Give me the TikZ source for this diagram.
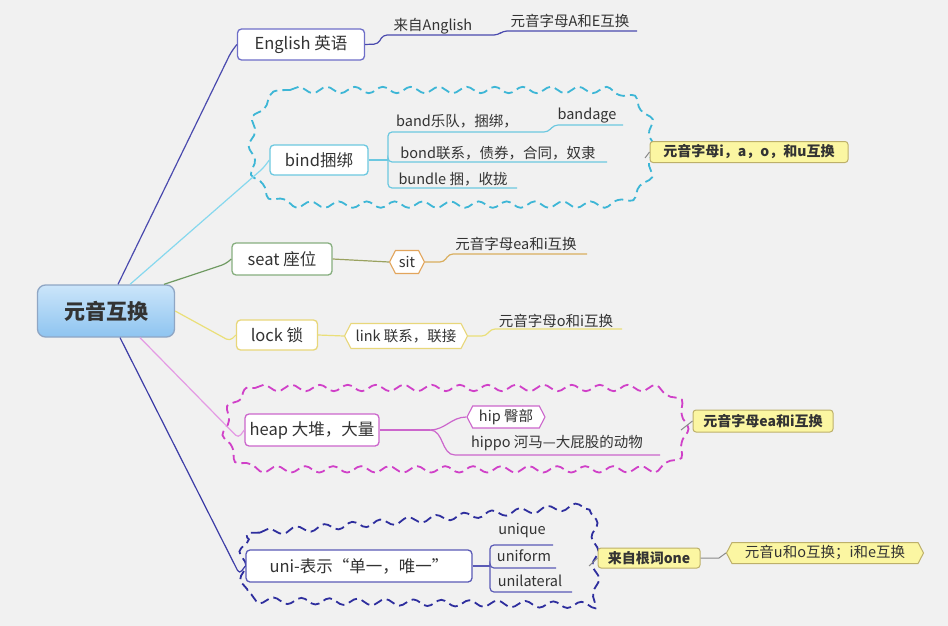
\documentclass[tikz,border=0pt]{standalone}
\usepackage{fontspec}
\setmainfont{Noto Sans CJK SC}
\usetikzlibrary{shapes.symbols,decorations.pathmorphing}
\definecolor{bg}{HTML}{F1F1F1}
\definecolor{txt}{HTML}{333333}
\definecolor{cTop}{HTML}{CBE5FA}
\definecolor{cBot}{HTML}{8EC4F0}
\definecolor{cBrd}{HTML}{8FA6C4}
\definecolor{engC}{HTML}{4A4AAE}
\definecolor{engB}{HTML}{6E6EC8}
\definecolor{bindC}{HTML}{86D8EE}
\definecolor{bindB}{HTML}{6CC8E0}
\definecolor{bindD}{HTML}{3DB6D6}
\definecolor{seatC}{HTML}{6F9A62}
\definecolor{seatB}{HTML}{86AE7E}
\definecolor{sitC}{HTML}{D9AE5E}
\definecolor{sitB}{HTML}{E2A55C}
\definecolor{lockC}{HTML}{EADF78}
\definecolor{lockB}{HTML}{E8D77A}
\definecolor{heapC}{HTML}{E49AE4}
\definecolor{heapB}{HTML}{CC66CC}
\definecolor{heapD}{HTML}{D040C8}
\definecolor{uniC}{HTML}{3C3CA6}
\definecolor{uniB}{HTML}{5A5AB6}
\definecolor{uniD}{HTML}{2E2E9E}
\definecolor{yelF}{HTML}{FBF6A2}
\definecolor{yelB}{HTML}{BDB06A}
\definecolor{grayL}{HTML}{8A8A8A}
\begin{document}
\begin{tikzpicture}[x=1pt,y=-1pt,
  every node/.style={text=txt},
  big/.style={font=\fontsize{16.5}{19}\selectfont},
  small/.style={font=\fontsize{14.5}{16}\selectfont, inner sep=0pt},
  mbox/.style={draw, rounded corners=4pt, fill=white, line width=1.3pt, inner sep=0pt, big},
  hexa/.style={signal, signal to=east and west, signal pointer angle=125, draw, fill=white, line width=1.1pt, inner sep=0pt, small},
  ybox/.style={draw=yelB, fill=yelF, rounded corners=3pt, line width=1pt, inner sep=0pt, font=\fontsize{14}{16}\selectfont\bfseries},
  yhex/.style={signal, signal to=east and west, signal pointer angle=125, draw=yelB, fill=yelF, line width=1pt, inner sep=0pt, font=\fontsize{14.5}{16}\selectfont},
  conn/.style={line width=1.2pt, rounded corners=4pt},
  sub/.style={line width=1.2pt, rounded corners=4pt},
  cloudline/.style={line width=1.8pt, dash pattern=on 9pt off 5pt, decorate,
    decoration={snake, amplitude=3.2pt, segment length=28pt}}
]
\useasboundingbox (0,0) rectangle (948,626);
\fill[bg] (0,0) rectangle (948,626);

% clouds
\draw[bindD, cloudline] (290,90) -- (600,90) .. controls (625,90) and (645,110) .. (645,135)
  -- (645,159) .. controls (645,184) and (625,204) .. (600,204) -- (290,204)
  .. controls (265,204) and (245,184) .. (245,159) -- (245,135)
  .. controls (245,110) and (265,90) .. (290,90) -- cycle;
\draw[heapD, cloudline] (255,388) -- (645,388) .. controls (664,388) and (679,403) .. (679,422)
  -- (679,434) .. controls (679,453) and (664,468) .. (645,468) -- (255,468)
  .. controls (234,468) and (219,451) .. (219,430) -- (219,426)
  .. controls (219,405) and (234,388) .. (255,388) -- cycle;
\draw[uniD, cloudline] (260,532.6) -- (567,507.5) .. controls (585,506) .. (585.6,524)
  -- (587.4,585) .. controls (588,603) .. (570,602.7) -- (262,598.4)
  .. controls (232,598) .. (231,568) -- (231,565) .. controls (230,535) .. (260,532.6) -- cycle;

% center
\node[draw=cBrd, line width=1.3pt, rounded corners=8pt, top color=cTop, bottom color=cBot,
  minimum width=137pt, minimum height=52pt, inner sep=0pt,
  font=\fontsize{21}{24}\selectfont\bfseries, text=black!80] (c) at (106,311) {元音互换};

% main boxes
\node[mbox, draw=engB, minimum width=127pt, minimum height=31pt] (eng) at (301,44.5) {English 英语};
\node[mbox, draw=bindB, minimum width=98pt, minimum height=30pt] (bind) at (319,160) {bind捆绑};
\node[mbox, draw=seatB, minimum width=100pt, minimum height=32pt] (seat) at (282,259) {seat 座位};
\node[mbox, draw=lockB, minimum width=81pt, minimum height=30pt] (lock) at (277,335) {lock 锁};
\node[mbox, draw=heapB, minimum width=134pt, minimum height=32pt] (heap) at (312,430) {heap 大堆，大量};
\node[mbox, draw=uniB, minimum width=226pt, minimum height=32pt] (uni) at (359,566) {uni-表示“单一，唯一”};

% center connectors
\draw[conn, engC] ([xshift=12pt]c.north) -- ([xshift=-6pt,yshift=-8pt]eng.west) -- (eng.west);
\draw[conn, bindC] ([xshift=24pt]c.north) -- ([xshift=-6pt,yshift=-8pt]bind.west) -- (bind.west);
\draw[conn, seatC] ([xshift=58pt]c.north) -- ([xshift=-6pt,yshift=-5pt]seat.west) -- (seat.west);
\draw[conn, lockC] ([yshift=0pt]c.east) -- ([xshift=-6pt,yshift=-6pt]lock.west) -- (lock.west);
\draw[conn, heapC] ([xshift=34pt]c.south) -- ([xshift=-6pt,yshift=-8pt]heap.west) -- (heap.west);
\draw[conn, uniC] ([xshift=14pt]c.south) -- ([xshift=-6pt,yshift=-8pt]uni.west) -- (uni.west);

% English branch
\node[small] (ang) at (433,26) {来自Anglish};
\node[small] (ae) at (570,21) {元音字母A和E互换};
\coordinate (e1) at (383,35);
\coordinate (e2) at (498,35);
\coordinate (e3) at (503,31);
\coordinate (e4) at (637,31);
\draw[sub, engC] (eng.east) -- (378,44) -- (e1) -- (e2) -- (e3) -- (e4);

% bind branch
\node[small] (band) at (457,121) {band乐队，捆绑，};
\node[small] (bandage) at (587,116) {bandage};
\node[small] (bond) at (498,153) {bond联系，债券，合同，奴隶};
\node[small] (bundle) at (453,179) {bundle 捆，收拢};
\coordinate (bk) at (388,160);
\draw[sub, bindB] (bind.east) -- (bk);
\draw[sub, bindB] (bk) -- (388,132) -- (548,132) -- (554,125) -- (623,125);
\draw[sub, bindB] (bk) -- (388,162) -- (607,162);
\draw[sub, bindB] (bk) -- (388,188) -- (517,188);
\node[ybox, minimum width=198pt, minimum height=21pt] (y1) at (749,152) {元音字母i，a，o，和u互换};
\draw[line width=1pt, grayL] (645,158) -- (y1.west);

% seat branch
\node[hexa, draw=sitB, minimum width=35pt, minimum height=23pt] (sit) at (407,262) {sit};
\node[small] (seaT) at (516,244) {元音字母ea和i互换};
\draw[conn, seatC!60!sitC] (seat.east) -- (sit.west);
\draw[sub, sitC] (sit.east) -- (444,262) -- (449,254) -- (587,254);

% lock branch
\node[hexa, draw=lockB, minimum width=123pt, minimum height=25pt] (link) at (406,336) {link 联系，联接};
\node[small] (lockT) at (556,321) {元音字母o和i互换};
\draw[conn, lockC] (lock.east) -- (link.west);
\draw[sub, lockC] (link.east) -- (486,336) -- (491,329) -- (622,329);

% heap branch
\node[hexa, draw=heapB, minimum width=78pt, minimum height=22pt] (hip) at (506,417) {hip 臀部};
\node[small] (hippo) at (557,443) {hippo 河马—大屁股的动物};
\coordinate (hk) at (430,430);
\draw[sub, heapB] (heap.east) -- (hk);
\draw[heapB, line width=1.2pt] (hk) to[out=0, in=180] (hip.west);
\draw[heapB, line width=1.2pt] (hk) to[out=0, in=180] (455,455) -- (660,455);
\node[ybox, minimum width=140pt, minimum height=22pt] (y2) at (763,421) {元音字母ea和i互换};
\draw[line width=1pt, grayL] (681,430) -- (y2.west);

% uni branch
\node[small] (unique) at (522,531) {unique};
\node[small] (uniform) at (524,556) {uniform};
\node[small] (unilat) at (530,581) {unilateral};
\coordinate (uk) at (490,566);
\draw[sub, uniB] (uni.east) -- (uk);
\draw[sub, uniB] (uk) -- (490,545) -- (553,545);
\draw[sub, uniB] (uk) -- (490,568) -- (556,568);
\draw[sub, uniB] (uk) -- (490,592) -- (572,592);
\node[ybox, minimum width=102pt, minimum height=20pt] (one) at (649,558) {来自根词one};
\node[yhex, minimum width=197pt, minimum height=21pt] (vow) at (825,553) {元音u和o互换；i和e互换};
\draw[line width=1pt, grayL] (589,566) -- (one.west);
\draw[line width=1pt, grayL] (one.east) -- (719,558) -- (vow.west);
\end{tikzpicture}
\end{document}
